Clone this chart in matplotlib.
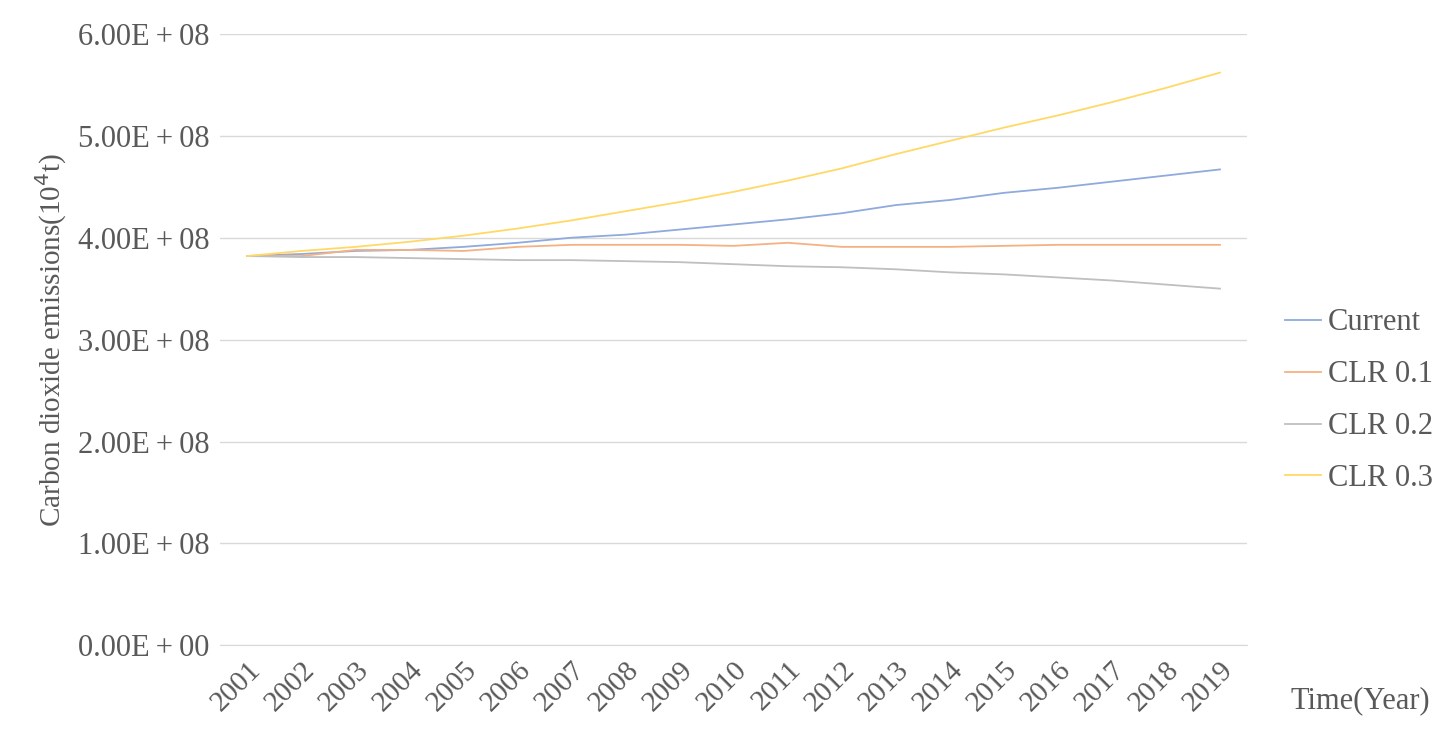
import matplotlib.pyplot as plt
import numpy as np
from matplotlib.ticker import FuncFormatter

plt.rcParams['font.family'] = ['Liberation Serif', 'DejaVu Serif']

years = [str(y) for y in range(2001, 2020)]
current = [3.82, 3.84, 3.87, 3.88, 3.91, 3.95, 4.00, 4.03, 4.08, 4.13, 4.18, 4.24, 4.32, 4.37, 4.44, 4.49, 4.55, 4.61, 4.67]
clr01 = [3.82, 3.82, 3.88, 3.88, 3.87, 3.91, 3.93, 3.93, 3.93, 3.92, 3.95, 3.91, 3.91, 3.91, 3.92, 3.93, 3.93, 3.93, 3.93]
clr02 = [3.82, 3.81, 3.81, 3.80, 3.79, 3.78, 3.78, 3.77, 3.76, 3.74, 3.72, 3.71, 3.69, 3.66, 3.64, 3.61, 3.58, 3.54, 3.50]
clr03 = [3.82, 3.87, 3.91, 3.96, 4.02, 4.09, 4.17, 4.26, 4.35, 4.45, 4.56, 4.68, 4.82, 4.95, 5.08, 5.20, 5.33, 5.47, 5.62]

fig = plt.figure(figsize=(14.5, 7.53), dpi=100)
ax = fig.add_axes([0.152, 0.143, 0.708, 0.812])

x = np.arange(len(years))
series = [('Current', current, '#8FAADC'), ('CLR 0.1', clr01, '#F4B183'),
          ('CLR 0.2', clr02, '#BFBFBF'), ('CLR 0.3', clr03, '#FFD966')]
for name, vals, c in series:
    ax.plot(x, np.array(vals) * 1e8, color=c, lw=1.3, label=name)

ax.set_xlim(-0.5, len(years) - 0.5)
ax.set_ylim(0, 6e8)
ax.set_yticks(np.arange(0, 7e8, 1e8))
ax.yaxis.set_major_formatter(FuncFormatter(
    lambda v, p: f'{v/1e8:.2f}E\u2009+\u200908' if v else '0.00E\u2009+\u200900'))
ax.set_xticks(x)
ax.set_xticklabels(years, rotation=45, ha='right', rotation_mode='anchor')
ax.grid(axis='y', color='#D9D9D9', lw=1)
ax.set_axisbelow(True)
for s in ax.spines.values():
    s.set_visible(False)
ax.spines['bottom'].set_visible(True)
ax.spines['bottom'].set_color('#D9D9D9')
ax.tick_params(length=0, labelsize=22, colors='#595959', pad=8)
ax.tick_params(axis='x', labelsize=21)
ax.set_ylabel('Carbon dioxide emissions(10$^4$t)', fontsize=21, color='#595959', labelpad=6)

ax.legend(loc='center left', bbox_to_anchor=(1.01, 0.40), frameon=False,
          fontsize=22, labelcolor='#595959', handlelength=1.2, handletextpad=0.2,
          labelspacing=0.75)
fig.text(0.938, 0.07, 'Time(Year)', fontsize=22, color='#595959', ha='center', va='center')

fig.savefig('out.png', dpi=100)
